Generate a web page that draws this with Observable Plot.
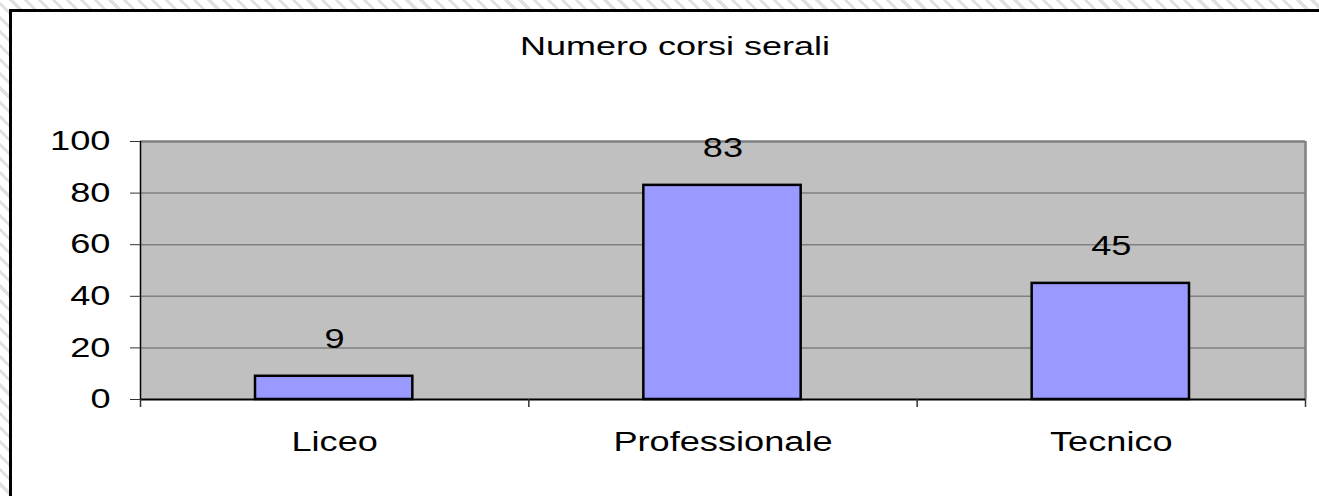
<!DOCTYPE html>
<html>
<head>
<meta charset="utf-8">
<script src="https://cdn.jsdelivr.net/npm/d3@7"></script>
<script src="https://cdn.jsdelivr.net/npm/@observablehq/plot@0.6"></script>
<style>
  html, body { margin: 0; padding: 0; width: 1319px; height: 496px; overflow: hidden; }
  body {
    background: repeating-linear-gradient(45deg, #ffffff 0px, #ffffff 7px, #e0e0e0 7px, #e0e0e0 10px);
    font-family: "Liberation Sans", Arial, sans-serif;
  }
  #box {
    position: absolute; left: 9px; top: 9px; right: 0; bottom: 0;
    border-left: 3px solid #000; border-top: 3px solid #000;
    background: #fff;
  }
  #title {
    position: relative; height: 100px; box-sizing: border-box;
  }
  #title span {
    position: absolute; left: 663px; top: 22px;
    font-size: 25px; line-height: 25px; white-space: nowrap; color: #000;
    transform: translateX(-50%) scaleX(1.44);
  }
  #chart svg { display: block; }
</style>
</head>
<body>
<div id="box">
  <div id="title"><span>Numero corsi serali</span></div>
  <div id="chart"></div>
</div>
<script>
const categories = ["Liceo", "Professionale", "Tecnico"];
const values = [9, 83, 45];
const yTicks = [0, 20, 40, 60, 80, 100];

const n = categories.length;
const data = categories.map((c, i) => ({c, i, v: values[i]}));
const yMax = d3.max(yTicks);
const inner = yTicks.filter(t => t > 0 && t < yMax);

const chart = Plot.plot({
  width: 1307,
  height: 384,
  marginLeft: 128,
  marginRight: 14,
  marginTop: 29,
  marginBottom: 97,
  style: {fontFamily: "Liberation Sans, Arial, sans-serif", fontSize: "27px", color: "#000", background: "transparent", overflow: "visible"},
  x: {type: "linear", domain: [0, n], axis: null},
  y: {domain: [0, yMax], axis: null},
  marks: [
    Plot.frame({fill: "#c0c0c0"}),
    Plot.ruleY(inner, {stroke: "#808080", strokeWidth: 1.5}),
    Plot.ruleY([yMax], {stroke: "#808080", strokeWidth: 2.5}),
    Plot.ruleX([n], {stroke: "#808080", strokeWidth: 2.5}),
    Plot.rectY(data, {x1: d => d.i, x2: d => d.i + 1, y1: 0, y2: "v", fill: "#9999ff", stroke: "#000", strokeWidth: 2.5, insetLeft: 115, insetRight: 116}),
    Plot.ruleX([0], {stroke: "#000", strokeWidth: 1.5}),
    Plot.ruleY([0], {stroke: "#000", strokeWidth: 2}),
    Plot.axisY({ticks: yTicks, tickSize: 10, tickPadding: 20, label: null, stroke: "#333"}),
    Plot.axisX({ticks: d3.range(n + 1), tickSize: 8, tickFormat: () => "", label: null, stroke: "#333", strokeWidth: 1.5}),
    Plot.axisX({ticks: d3.range(n).map(i => i + 0.5), tickFormat: t => categories[Math.floor(t)], tickSize: 0, tickPadding: 32, label: null}),
    Plot.text(data, {x: d => d.i + 0.5, y: "v", text: d => String(d.v), dy: -37, fontSize: 27})
  ]
});
document.getElementById("chart").appendChild(chart);

// Stretch text horizontally like the original rendering
const k = 1.34;
chart.querySelectorAll("text").forEach(t => {
  const spans = t.querySelectorAll("tspan");
  const targets = spans.length ? Array.from(spans) : [t];
  targets.forEach(el => {
    const w = el.getComputedTextLength();
    if (w > 0) {
      el.setAttribute("textLength", (w * k).toFixed(1));
      el.setAttribute("lengthAdjust", "spacingAndGlyphs");
    }
  });
});
</script>
</body>
</html>
